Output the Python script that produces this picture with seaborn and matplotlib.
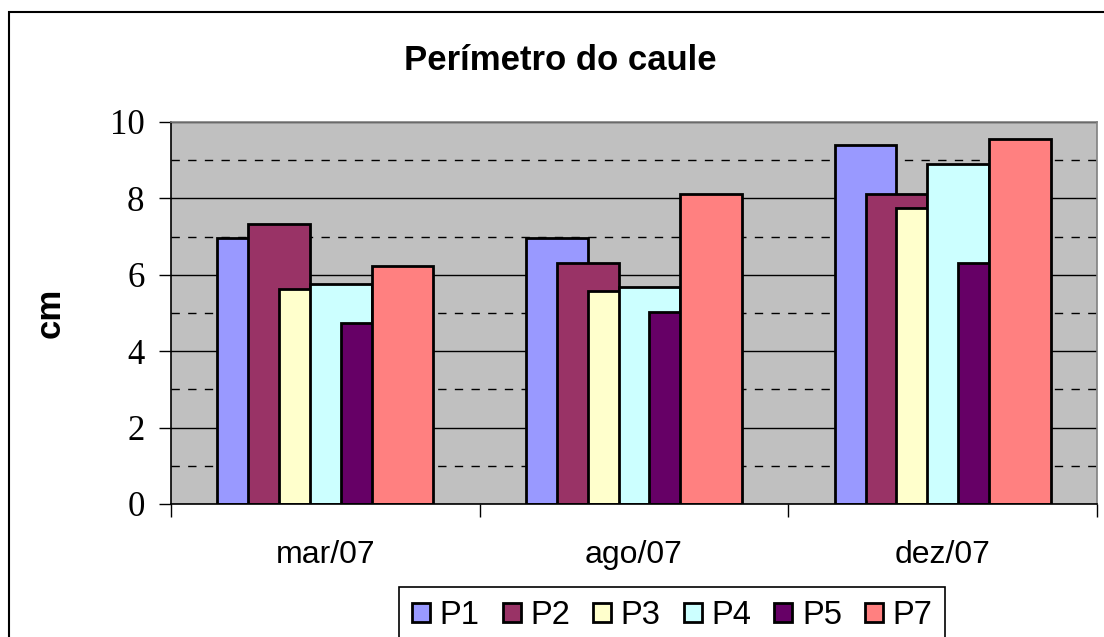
import numpy as np
import pandas as pd
import matplotlib
matplotlib.use("Agg")
import matplotlib.pyplot as plt
from matplotlib.patches import Rectangle
from matplotlib.ticker import MultipleLocator, FixedLocator
import seaborn as sns

# ---------------------------
# Data
# ---------------------------
months = ["mar/07", "ago/07", "dez/07"]
series = ["P1", "P2", "P3", "P4", "P5", "P7"]
p1 = [6.96, 6.96, 9.40]
p2 = [7.33, 6.30, 8.11]
p3 = [5.62, 5.58, 7.75]
p4 = [5.75, 5.67, 8.90]
p5 = [4.73, 5.03, 6.30]
p7 = [6.24, 8.11, 9.56]
values = [p1, p2, p3, p4, p5, p7]
colors = ["#9999FF", "#993366", "#FFFFCC", "#CCFFFF", "#660066", "#FF8080"]

# long table: one row per bar
rows = []
for s, vals in zip(series, values):
    for i, m in enumerate(months):
        rows.append({"serie": s, "idx": i, "mes": m, "cm": vals[i]})
df = pd.DataFrame(rows)

# ---------------------------
# Figure
# ---------------------------
plt.rcParams["font.family"] = ["Liberation Sans", "DejaVu Sans"]
fig = plt.figure(figsize=(11.04, 6.37), dpi=100)
ax = fig.add_axes([171 / 1104, 1 - 504 / 637, 926 / 1104, 382 / 637])
ax.set_facecolor("#C0C0C0")

# Excel style: gap width 150%, overlap 50% -> bar width 0.2, step 0.1
bar_w = 0.2
step = 0.1
offsets = (np.arange(len(series)) - (len(series) - 1) / 2) * step
for s, off, c in zip(series, offsets, colors):
    d = df[df["serie"] == s].copy()
    d["pos"] = d["idx"] + off
    sns.barplot(data=d, x="pos", y="cm", native_scale=True, width=bar_w,
                color=c, saturation=1, edgecolor="black", linewidth=2,
                errorbar=None, label=s, ax=ax, zorder=3)
if ax.get_legend() is not None:
    ax.get_legend().remove()

ax.set_xlim(-0.5, 2.5)
ax.set_ylim(0, 10)

# gridlines
ax.yaxis.set_major_locator(MultipleLocator(2))
ax.yaxis.set_minor_locator(MultipleLocator(1))
ax.grid(axis="y", which="major", color="black", linewidth=1.0, zorder=1)
ax.grid(axis="y", which="minor", color="black", linewidth=1.0,
        linestyle=(0, (6, 6)), zorder=1)
ax.grid(axis="x", visible=False)
ax.set_axisbelow(True)

# x ticks: marks at category borders, labels at centers
ax.xaxis.set_major_locator(FixedLocator([-0.5, 0.5, 1.5, 2.5]))
ax.xaxis.set_minor_locator(FixedLocator([0, 1, 2]))
ax.set_xticklabels([], minor=False)
ax.set_xticklabels(months, minor=True, fontsize=23)
ax.tick_params(axis="x", which="major", direction="out", length=9, width=1, color="black")
ax.tick_params(axis="x", which="minor", length=0, pad=26)
ax.tick_params(axis="y", which="major", direction="out", length=9, width=1,
               pad=10, labelsize=25)
ax.tick_params(axis="y", which="minor", length=0)
for lab in ax.get_yticklabels():
    lab.set_family(["Liberation Serif", "DejaVu Serif"])

# frame
ax.spines["left"].set_color("black")
ax.spines["bottom"].set_color("black")
ax.spines["top"].set_color("#808080")
ax.spines["right"].set_color("#808080")
for sp in ax.spines.values():
    sp.set_linewidth(1.2)
    sp.set_zorder(4)

ax.set_xlabel("")
ax.set_ylabel("cm", fontsize=25, fontweight="bold")
ax.yaxis.set_label_coords(-0.113, 0.5)

fig.text(560 / 1104, 1 - 60 / 637, "Perímetro do caule", fontsize=25,
         fontweight="bold", ha="center", va="center")

# legend at the bottom, partly cut by the figure edge
handles, labels = ax.get_legend_handles_labels()
leg = fig.legend(handles, labels, loc="upper left",
                 bbox_to_anchor=(399 / 1104, 1 - 587 / 637), ncol=6,
                 fontsize=23.5, frameon=True, fancybox=False, framealpha=1,
                 edgecolor="black", handlelength=0.55, handleheight=0.55,
                 handletextpad=0.3, columnspacing=0.7, borderpad=0.4,
                 borderaxespad=0)
leg.get_frame().set_linewidth(1.2)

# outer border of the chart
fig.patches.append(Rectangle((9 / 1104, -0.1), 1.2, 1 - 12 / 637 + 0.1,
                             transform=fig.transFigure, fill=False,
                             edgecolor="black", linewidth=1.5))

fig.savefig("out.png", dpi=100)
